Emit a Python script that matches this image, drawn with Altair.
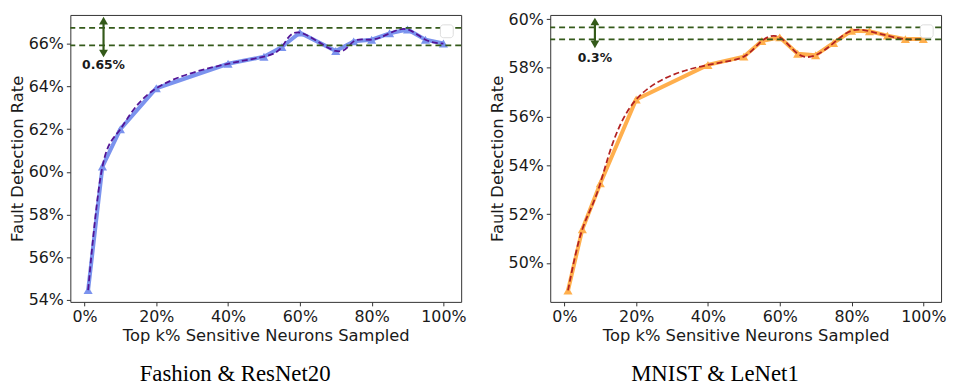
import altair as alt
import pandas as pd

# ---- data ----
x_left = [1, 5, 10, 20, 40, 50, 55, 60, 70, 75, 80, 85, 90, 95, 100]
y_left = [54.45, 60.25, 62.0, 63.92, 65.07, 65.4, 65.86, 66.53, 65.67, 66.12, 66.2, 66.5, 66.68, 66.2, 66.02]

x_right = [1, 5, 10, 20, 40, 50, 55, 60, 65, 70, 75, 80, 85, 90, 95, 100]
y_right = [48.87, 51.38, 53.26, 56.7, 58.12, 58.46, 59.1, 59.25, 58.58, 58.52, 59.02, 59.52, 59.5, 59.32, 59.18, 59.18]

hlines_left = [65.93, 66.75]
hlines_right = [59.17, 59.66]

arrow_left_x = [5.3]
arrow_left_y = [65.55, 67.09]
arrow_right_x = [8.5]
arrow_right_y = [58.96, 59.9]

label_left = ["0.65%"]
label_left_pos = [5.3, 65.0]
label_right = ["0.3%"]
label_right_pos = [8.5, 58.42]

xticks = [0, 20, 40, 60, 80, 100]
yticks_left = [54, 56, 58, 60, 62, 64, 66]
yticks_right = [50, 52, 54, 56, 58, 60]

ydomain_left = [53.9, 67.36]
ydomain_right = [48.4, 60.17]
xdomain = [-3.95, 104.95]

captions = ["Fashion & ResNet20", "MNIST & LeNet1"]

GREEN = "#345a1a"
W, H = 395, 290


def panel(xs, ys, hl, ax, ay, lab, lab_pos, line_color, curve_color,
          ydomain, yticks, caption):
    df = pd.DataFrame({"x": xs, "y": ys})
    xenc = alt.X("x:Q",
                 scale=alt.Scale(domain=xdomain, nice=False, zero=False),
                 axis=alt.Axis(values=xticks, labelExpr="datum.value + '%'",
                               title="Top k% Sensitive Neurons Sampled"))
    yenc = alt.Y("y:Q",
                 scale=alt.Scale(domain=ydomain, nice=False, zero=False),
                 axis=alt.Axis(values=yticks, labelExpr="datum.value + '%'",
                               title="Fault Detection Rate"))
    base = alt.Chart(df).encode(x=xenc, y=yenc)
    line = base.mark_line(color=line_color, strokeWidth=4)
    pts = base.mark_point(shape="triangle-up", filled=True, size=85,
                          color=line_color, opacity=1)
    curve = base.mark_line(color=curve_color, strokeWidth=1.8,
                           strokeDash=[6, 3], interpolate="natural")
    hdf = pd.DataFrame({"y": hl})
    hr = alt.Chart(hdf).mark_rule(color=GREEN, strokeDash=[6, 4],
                                  strokeWidth=1.7).encode(y="y:Q")
    adf = pd.DataFrame({"x": ax, "y": [ay[0]], "y2": [ay[1]]})
    arule = alt.Chart(adf).mark_rule(color=GREEN, strokeWidth=2.2).encode(
        x="x:Q", y="y:Q", y2="y2:Q")
    hdf2 = pd.DataFrame({"x": ax * 2, "y": [ay[0], ay[1]],
                         "s": ["triangle-down", "triangle-up"]})
    heads = alt.Chart(hdf2).mark_point(filled=True, size=80, color=GREEN,
                                       opacity=1).encode(
        x="x:Q", y="y:Q",
        shape=alt.Shape("s:N", scale=None))
    tdf = pd.DataFrame({"x": [lab_pos[0]], "y": [lab_pos[1]], "t": lab})
    txt = alt.Chart(tdf).mark_text(font="DejaVu Sans", fontWeight="bold",
                                   fontSize=12.5, color="#1a1a1a").encode(
        x="x:Q", y="y:Q", text="t:N")
    legbox = alt.Chart(df).mark_rect(
        fill="white", stroke="#dddddd", strokeWidth=1, cornerRadius=3).encode(
        x=alt.value(W - 21), x2=alt.value(W - 8),
        y=alt.value(10), y2=alt.value(23))
    return alt.layer(line, pts, curve, hr, arule, heads, txt,
                     legbox.transform_filter("datum.x == 100")).properties(
        width=W, height=H,
        title=alt.TitleParams(caption, orient="bottom", anchor="middle",
                              font="Liberation Serif", fontSize=23,
                              fontWeight="normal", color="#000", offset=19,
                              dx=-31)
    )


left = panel(x_left, y_left, hlines_left, arrow_left_x, arrow_left_y,
             label_left, label_left_pos, "#7b93ee", "#521496",
             ydomain_left, yticks_left, captions[0])
right = panel(x_right, y_right, hlines_right, arrow_right_x, arrow_right_y,
              label_right, label_right_pos, "#ffaf4d", "#b22222",
              ydomain_right, yticks_right, captions[1])

chart = alt.hconcat(left, right, spacing=21).properties(
    padding={"left": 0, "top": 0, "right": 0, "bottom": 0}
).configure_view(
    stroke="#333333", strokeWidth=1
).configure_axis(
    domain=False, grid=False,
    labelFont="DejaVu Sans", labelFontSize=16, labelColor="#1a1a1a",
    titleFont="DejaVu Sans", titleFontSize=16.5, titleFontWeight="normal",
    titleColor="#1a1a1a",
    tickColor="#333333", tickSize=4, labelPadding=3, titlePadding=3
)

chart.save("out.html", embed_options={"renderer": "svg", "actions": False})
